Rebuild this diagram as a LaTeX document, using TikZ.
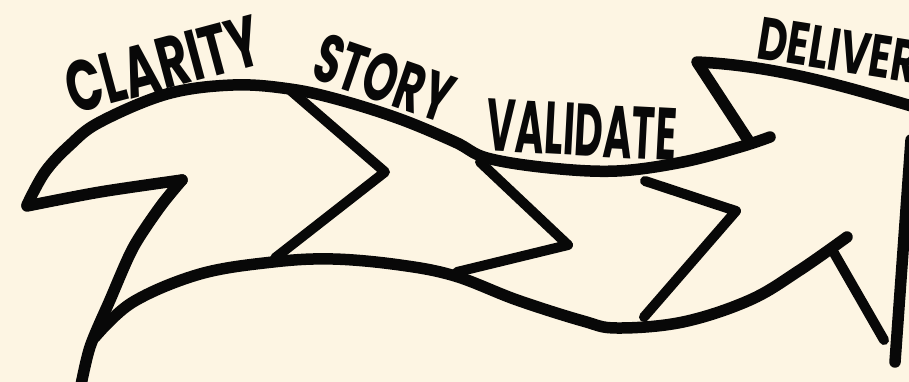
\documentclass[tikz,border=0pt]{standalone}
\usepackage{fontspec}
\setmainfont{Poppins}
\newfontfamily\handA[FakeStretch=0.66]{Poppins}
\newfontfamily\handB[FakeStretch=0.63]{Poppins}
\newfontfamily\handC[FakeStretch=0.53]{Poppins}
\newfontfamily\handD[FakeStretch=0.68]{Poppins}
\definecolor{paper}{RGB}{253,245,227}
\definecolor{ink}{RGB}{8,8,8}
\begin{document}
\begin{tikzpicture}[x=1pt,y=-1pt,
  stroke/.style={draw=ink,line width=11.5pt,line cap=round,line join=round},
  thin stroke/.style={draw=ink,line width=10pt,line cap=round,line join=round},
  word/.style={inner sep=0pt,text=ink}]
\fill[paper] (0,0) rectangle (909,382);
\useasboundingbox (0,0) rectangle (909,382);
\clip (0,0) rectangle (909,382);

% upper edge of the ribbon
\draw[stroke] plot[smooth,tension=0.6] coordinates {(27,205) (45,172) (70,145) (100,122) (167,94) (233,85) (290,89) (340,100) (400,119) (455,142) (487,158) (550,168) (617,171) (683,162) (740,147) (770,137)};
% tail
\draw[stroke] plot[smooth,tension=0.5] coordinates {(27,206) (100,192) (182,180)};
\draw[stroke] plot[smooth,tension=0.5] coordinates {(182,180) (160,207) (133,248) (110,300) (90,347) (80,390)};
% lower edge of the ribbon
\draw[stroke] plot[smooth,tension=0.6] coordinates {(95,337) (133,302) (200,274) (273,262) (333,259) (400,265) (455,276) (517,300) (583,321) (617,328) (683,322) (750,300) (800,270) (847,237)};
% chevrons
\draw[thin stroke] (290,90) -- (385,172) -- (275,258);
\draw[thin stroke] (480,162) -- (568,245) -- (457,272);
\draw[thin stroke] (645,181) -- (736,211) -- (644,317);
% arrow head
\draw[stroke] (748,140) -- (697,62) .. controls (780,66) and (850,88) .. (925,110);
\draw[stroke] (911,140) -- (895,362);
\draw[thin stroke] (834,253) -- (884,340);

% labels
\node[word,font=\handA\bfseries\fontsize{72}{72}\selectfont,rotate=15] (clarity) at (163,64) {CLARITY};
\node[word,font=\handB\bfseries\fontsize{68}{68}\selectfont,rotate=-19] (story) at (384,78) {STORY};
\node[word,font=\handC\bfseries\fontsize{74}{74}\selectfont,rotate=-3] (validate) at (582,130) {VALIDATE};
\node[word,font=\handD\bfseries\fontsize{60}{60}\selectfont,rotate=-9,anchor=base west] (deliver) at (755,58) {DELIVER};
\end{tikzpicture}
\end{document}
